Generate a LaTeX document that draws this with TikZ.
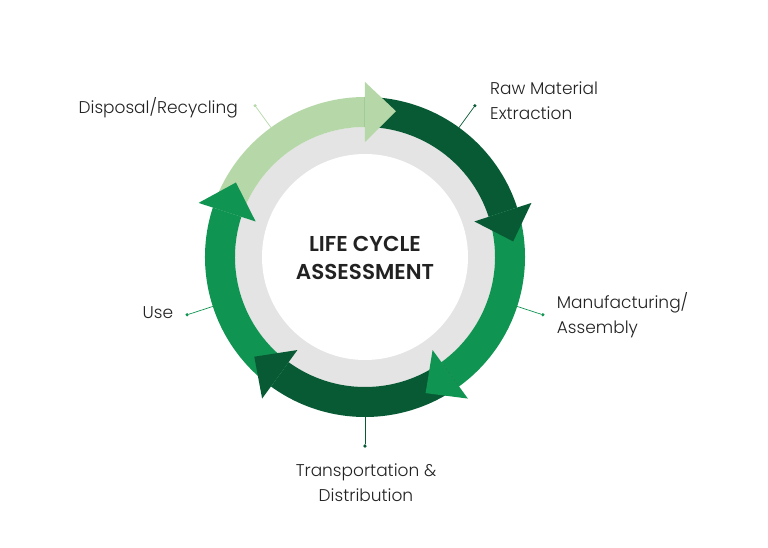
\documentclass[tikz,border=0pt]{standalone}
\usepackage{fontspec}
\IfFontExistsTF{Poppins Light}{\setmainfont{Poppins Light}[BoldFont=Poppins SemiBold]}{\setmainfont{Poppins}}
\usepackage{tikz}

\definecolor{lcalight}{RGB}{182,216,168}
\definecolor{lcadark}{RGB}{8,90,52}
\definecolor{lcamid}{RGB}{16,148,82}
\definecolor{lcagrey}{RGB}{228,228,228}
\definecolor{lcatext}{RGB}{34,34,34}

\tikzset{
	stagelbl/.style={text=lcatext, inner sep=0pt, align=left, font=\fontsize{17}{25}\selectfont},
	stagedot/.style={circle, fill=#1, inner sep=0pt, minimum size=3.5pt},
	stageline/.style={draw=#1, line width=0.7pt}
}

% band of one stage, from start angle to the base of its head
\newcommand{\lcaband}[3]{%
	\fill[#1] (#2:160) arc[start angle=#2, end angle=#3, radius=160]
		-- (#3:130) arc[start angle=#3, end angle=#2, radius=130] -- cycle;}
% head of one stage
\newcommand{\lcahead}[3]{%
	\fill[#1] (#2:115) -- (#2:175) -- (#3:149) -- cycle;}

\begin{document}
\begin{tikzpicture}[x=1pt,y=1pt]
		\useasboundingbox (-365,-291) rectangle (403,257);
		\fill[lcagrey] (0,0) circle (130);
		\fill[white] (0,0) circle (103);
		% bands first, heads on top
		\lcaband{lcalight}{162}{90}
		\lcaband{lcadark}{90}{18}
		\lcaband{lcamid}{18}{-54}
		\lcaband{lcadark}{-54}{-126}
		\lcaband{lcamid}{-126}{-198}
		\lcahead{lcalight}{90}{78}
		\lcahead{lcadark}{18}{6}
		\lcahead{lcamid}{-54}{-66}
		\lcahead{lcadark}{-126}{-138}
		\lcahead{lcamid}{-198}{-210}
		\node[text=lcatext, align=center, inner sep=0pt, font=\fontsize{21.5}{28.3}\selectfont\bfseries] (title) at (0,-1.3) {LIFE CYCLE\\ASSESSMENT};
		% connectors
		\coordinate (raws) at (54:160);
		\coordinate (mans) at (-18:160);
		\coordinate (tras) at (-90:160);
		\coordinate (uses) at (-162:160);
		\coordinate (diss) at (126:160);
		\node[stagedot=lcadark] (rawdot) at (54:187) {};
		\node[stagedot=lcamid] (mandot) at (-18:187) {};
		\node[stagedot=lcadark] (tradot) at (-90:189) {};
		\node[stagedot=lcamid] (usedot) at (-162:187) {};
		\node[stagedot=lcalight] (disdot) at (126:187) {};
		\draw[stageline=lcadark] (raws) -- (rawdot);
		\draw[stageline=lcamid] (mans) -- (mandot);
		\draw[stageline=lcadark] (tras) -- (tradot);
		\draw[stageline=lcamid] (uses) -- (usedot);
		\draw[stageline=lcalight] (diss) -- (disdot);
		% labels (base is the last line)
		\node[stagelbl, anchor=base west] (raw) at (125,137.7) {Raw Material\\Extraction};
		\node[stagelbl, anchor=base west] (man) at (191.7,-76.3) {Manufacturing/\\Assembly};
		\node[stagelbl, anchor=base, align=center] (tra) at (1,-244.7) {Transportation \&\\Distribution};
		\node[stagelbl, anchor=base east] (use) at (-191.7,-61.3) {Use};
		\node[stagelbl, anchor=base east] (dis) at (-127,143.7) {Disposal/Recycling};
	\end{tikzpicture}
\end{document}
